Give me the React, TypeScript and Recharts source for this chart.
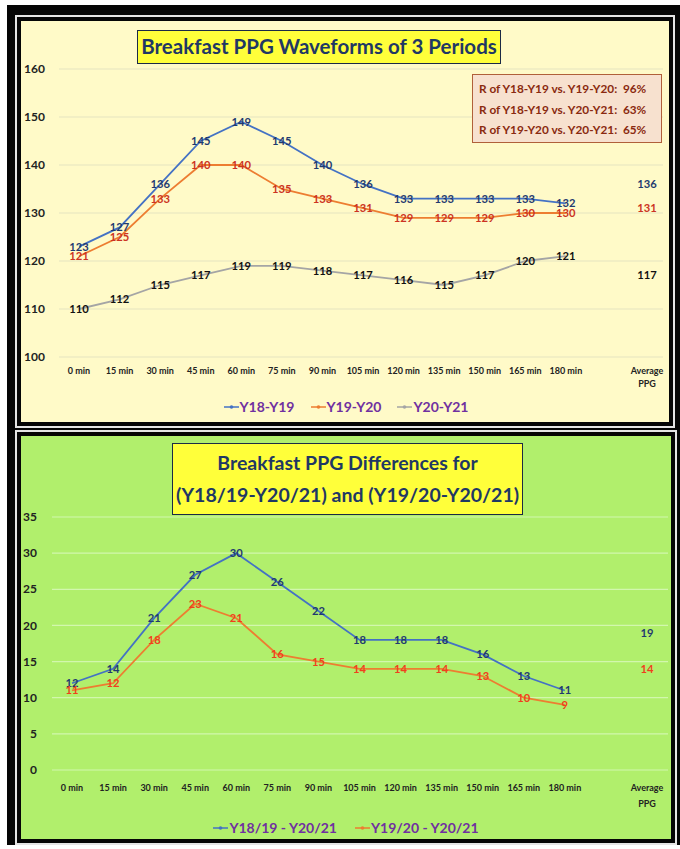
import { LineChart, Line, XAxis, YAxis, CartesianGrid, LabelList, Legend } from 'recharts'

const FONT = 'Lato, "Open Sans", sans-serif'

// categories: 13 time points, an empty slot, then the average column
const times = ['0 min', '15 min', '30 min', '45 min', '60 min', '75 min', '90 min', '105 min', '120 min', '135 min', '150 min', '165 min', '180 min', '', 'Average PPG']

// top chart: PPG waveforms
const y18y19 = [123, 127, 136, 145, 149, 145, 140, 136, 133, 133, 133, 133, 132]
const y19y20 = [121, 125, 133, 140, 140, 135, 133, 131, 129, 129, 129, 130, 130]
const y20y21 = [110, 112, 115, 117, 119, 119, 118, 117, 116, 115, 117, 120, 121]
const waveAverages = [136, 131, 117]
const waveNames = ['Y18-Y19', 'Y19-Y20', 'Y20-Y21']
const waveTicks = [100, 110, 120, 130, 140, 150, 160]
const rLines = ['R of Y18-Y19 vs. Y19-Y20:  96%', 'R of Y18-Y19 vs. Y20-Y21:  63%', 'R of Y19-Y20 vs. Y20-Y21:  65%']

// bottom chart: differences
const diff1819 = [12, 14, 21, 27, 30, 26, 22, 18, 18, 18, 16, 13, 11]
const diff1920 = [11, 12, 18, 23, 21, 16, 15, 14, 14, 14, 13, 10, 9]
const diffAverages = [19, 14]
const diffNames = ['Y18/19 - Y20/21', 'Y19/20 - Y20/21']
const diffTicks = [0, 5, 10, 15, 20, 25, 30, 35]

const BLUE = '#4472C4'
const ORANGE = '#ED7D31'
const GRAY = '#A5A5A5'

function buildRows(series: number[][], averages: number[]) {
  return times.map((t, i) => {
    const row: Record<string, string | number | null> = { t }
    series.forEach((s, k) => {
      row['s' + k] = i < s.length ? s[i] : i === times.length - 1 ? averages[k] : null
    })
    return row
  })
}

const waveRows = buildRows([y18y19, y19y20, y20y21], waveAverages)
const diffRows = buildRows([diff1819, diff1920], diffAverages)

const valueLabel = (color: string) => (props: any) => {
  const x = props.x ?? props.viewBox?.x
  const y = props.y ?? props.viewBox?.y
  if (props.value == null || x == null || y == null) return null
  return (
    <text x={x} y={y} dy={4} textAnchor="middle" fill={color} fontSize={11.2} fontWeight={700} fontFamily={FONT}>
      {props.value}
    </text>
  )
}

const timeTick = (dy: number, gap: number) => (props: any) => {
  const { x, y, payload } = props
  const v = String(payload.value)
  const common = { textAnchor: 'middle' as const, fill: '#222', fontSize: 9, fontWeight: 700, fontFamily: FONT }
  if (v === 'Average PPG') {
    return (
      <text x={x} y={y} {...common}>
        <tspan x={x} dy={dy}>Average</tspan>
        <tspan x={x} dy={gap}>PPG</tspan>
      </text>
    )
  }
  return <text x={x} y={y} dy={dy} {...common}>{v}</text>
}

const valueTick = (props: any) => (
  <text x={props.x} y={props.y} dy={4.2} textAnchor="end" fill="#222" fontSize={12} fontWeight={700} fontFamily={FONT}>
    {props.payload.value}
  </text>
)

const legendContent = (names: string[], colors: string[], gap: number) => () => (
  <div style={{ display: 'flex', justifyContent: 'center', gap }}>
    {names.map((n, i) => (
      <span key={n} style={{ display: 'inline-flex', alignItems: 'center' }}>
        <svg width={15} height={10} style={{ marginRight: 1 }}>
          <line x1={0} y1={5} x2={15} y2={5} stroke={colors[i]} strokeWidth={1.5} />
          <circle cx={7.5} cy={5} r={1.8} fill={colors[i]} />
        </svg>
        <span style={{ color: '#7030A0', fontWeight: 700, fontSize: 14, fontFamily: FONT }}>{n}</span>
      </span>
    ))}
  </div>
)

function Panel({ top, height, width, bg }: { top: number; height: number; width: number; bg: string }) {
  return (
    <div style={{ position: 'absolute', left: 15, top, width, height, background: '#e4e4e4' }}>
      <div style={{ position: 'absolute', inset: 2, background: '#050505' }}>
        <div style={{ position: 'absolute', inset: 4, background: bg }} />
      </div>
    </div>
  )
}

const titleStyle: React.CSSProperties = {
  position: 'absolute',
  background: '#FFFF3A',
  border: '1.5px solid #1b2a45',
  color: '#1F3864',
  fontFamily: FONT,
  fontWeight: 700,
  fontSize: 19.5,
  textAlign: 'center',
  boxSizing: 'border-box',
  whiteSpace: 'nowrap',
}

export default function App() {
  return (
    <div style={{ position: 'absolute', left: 0, top: 0, width: 680, height: 849, background: '#fff', overflow: 'hidden' }}>
      <div style={{ position: 'absolute', left: 7, top: 5, width: 673, height: 840, background: '#050505' }} />
      <Panel top={15} height={413} width={660} bg="#FFFAC8" />
      <Panel top={430} height={415} width={662} bg="#B1EF6C" />

      <div style={{ position: 'absolute', left: 0, top: 0 }}>
        <LineChart width={680} height={430} data={waveRows} margin={{ top: 69, right: 17, bottom: 43, left: 19 }}>
          <CartesianGrid horizontal vertical={false} stroke="#e6e3c0" strokeWidth={1.2} />
          <XAxis dataKey="t" interval={0} height={30} axisLine={false} tickLine={false} padding={{ left: 20, right: 16 }} tick={timeTick(8.5, 13)} />
          <YAxis domain={[100, 160]} ticks={waveTicks} width={40} axisLine={false} tickLine={false} tickMargin={8} tick={valueTick} />
          <Legend verticalAlign="middle" align="center" wrapperStyle={{ top: 398, left: 0, width: 692 }} content={legendContent(waveNames, [BLUE, ORANGE, GRAY], 16)} />
          <Line dataKey="s0" name={waveNames[0]} stroke={BLUE} strokeWidth={1.8} dot={false} activeDot={false} isAnimationActive={false}>
            <LabelList dataKey="s0" content={valueLabel('#1F3A70')} />
          </Line>
          <Line dataKey="s1" name={waveNames[1]} stroke={ORANGE} strokeWidth={1.8} dot={false} activeDot={false} isAnimationActive={false}>
            <LabelList dataKey="s1" content={valueLabel('#CC3322')} />
          </Line>
          <Line dataKey="s2" name={waveNames[2]} stroke={GRAY} strokeWidth={1.8} dot={false} activeDot={false} isAnimationActive={false}>
            <LabelList dataKey="s2" content={valueLabel('#111111')} />
          </Line>
        </LineChart>
      </div>

      <div style={{ position: 'absolute', left: 0, top: 430 }}>
        <LineChart width={680} height={419} data={diffRows} margin={{ top: 87, right: 12, bottom: 49, left: 20 }}>
          <CartesianGrid horizontal vertical={false} stroke="#d2f7ad" strokeWidth={1.2} />
          <XAxis dataKey="t" interval={0} height={30} axisLine={false} tickLine={false} padding={{ left: 20, right: 21 }} tick={timeTick(12.5, 16)} />
          <YAxis domain={[0, 35]} ticks={diffTicks} width={32} axisLine={false} tickLine={false} tickMargin={9} tick={valueTick} />
          <Legend verticalAlign="middle" align="center" wrapperStyle={{ top: 389, left: 0, width: 692 }} content={legendContent(diffNames, [BLUE, ORANGE], 18)} />
          <Line dataKey="s0" name={diffNames[0]} stroke={BLUE} strokeWidth={1.8} dot={false} activeDot={false} isAnimationActive={false}>
            <LabelList dataKey="s0" content={valueLabel('#1F3A70')} />
          </Line>
          <Line dataKey="s1" name={diffNames[1]} stroke={ORANGE} strokeWidth={1.8} dot={false} activeDot={false} isAnimationActive={false}>
            <LabelList dataKey="s1" content={valueLabel('#F0401C')} />
          </Line>
        </LineChart>
      </div>

      <div style={{ ...titleStyle, left: 137, top: 30, width: 364, height: 34, lineHeight: '31px', fontSize: 20.5 }}>
        Breakfast PPG Waveforms of 3 Periods
      </div>
      <div style={{ ...titleStyle, left: 172, top: 443, width: 351, height: 72, lineHeight: '32px', paddingTop: 3 }}>
        Breakfast PPG Differences for
        <br />
        (Y18/19-Y20/21) and (Y19/20-Y20/21)
      </div>

      <div
        style={{
          position: 'absolute', left: 472, top: 74, width: 190, height: 69, boxSizing: 'border-box',
          background: '#F7E1CF', border: '1.5px solid #B0603A', padding: '4px 0 0 6px',
          color: '#8A2A10', fontFamily: FONT, fontWeight: 700, fontSize: 11.8, lineHeight: '20.5px', whiteSpace: 'pre',
        }}
      >
        {rLines.map((l) => <div key={l}>{l}</div>)}
      </div>
    </div>
  )
}
